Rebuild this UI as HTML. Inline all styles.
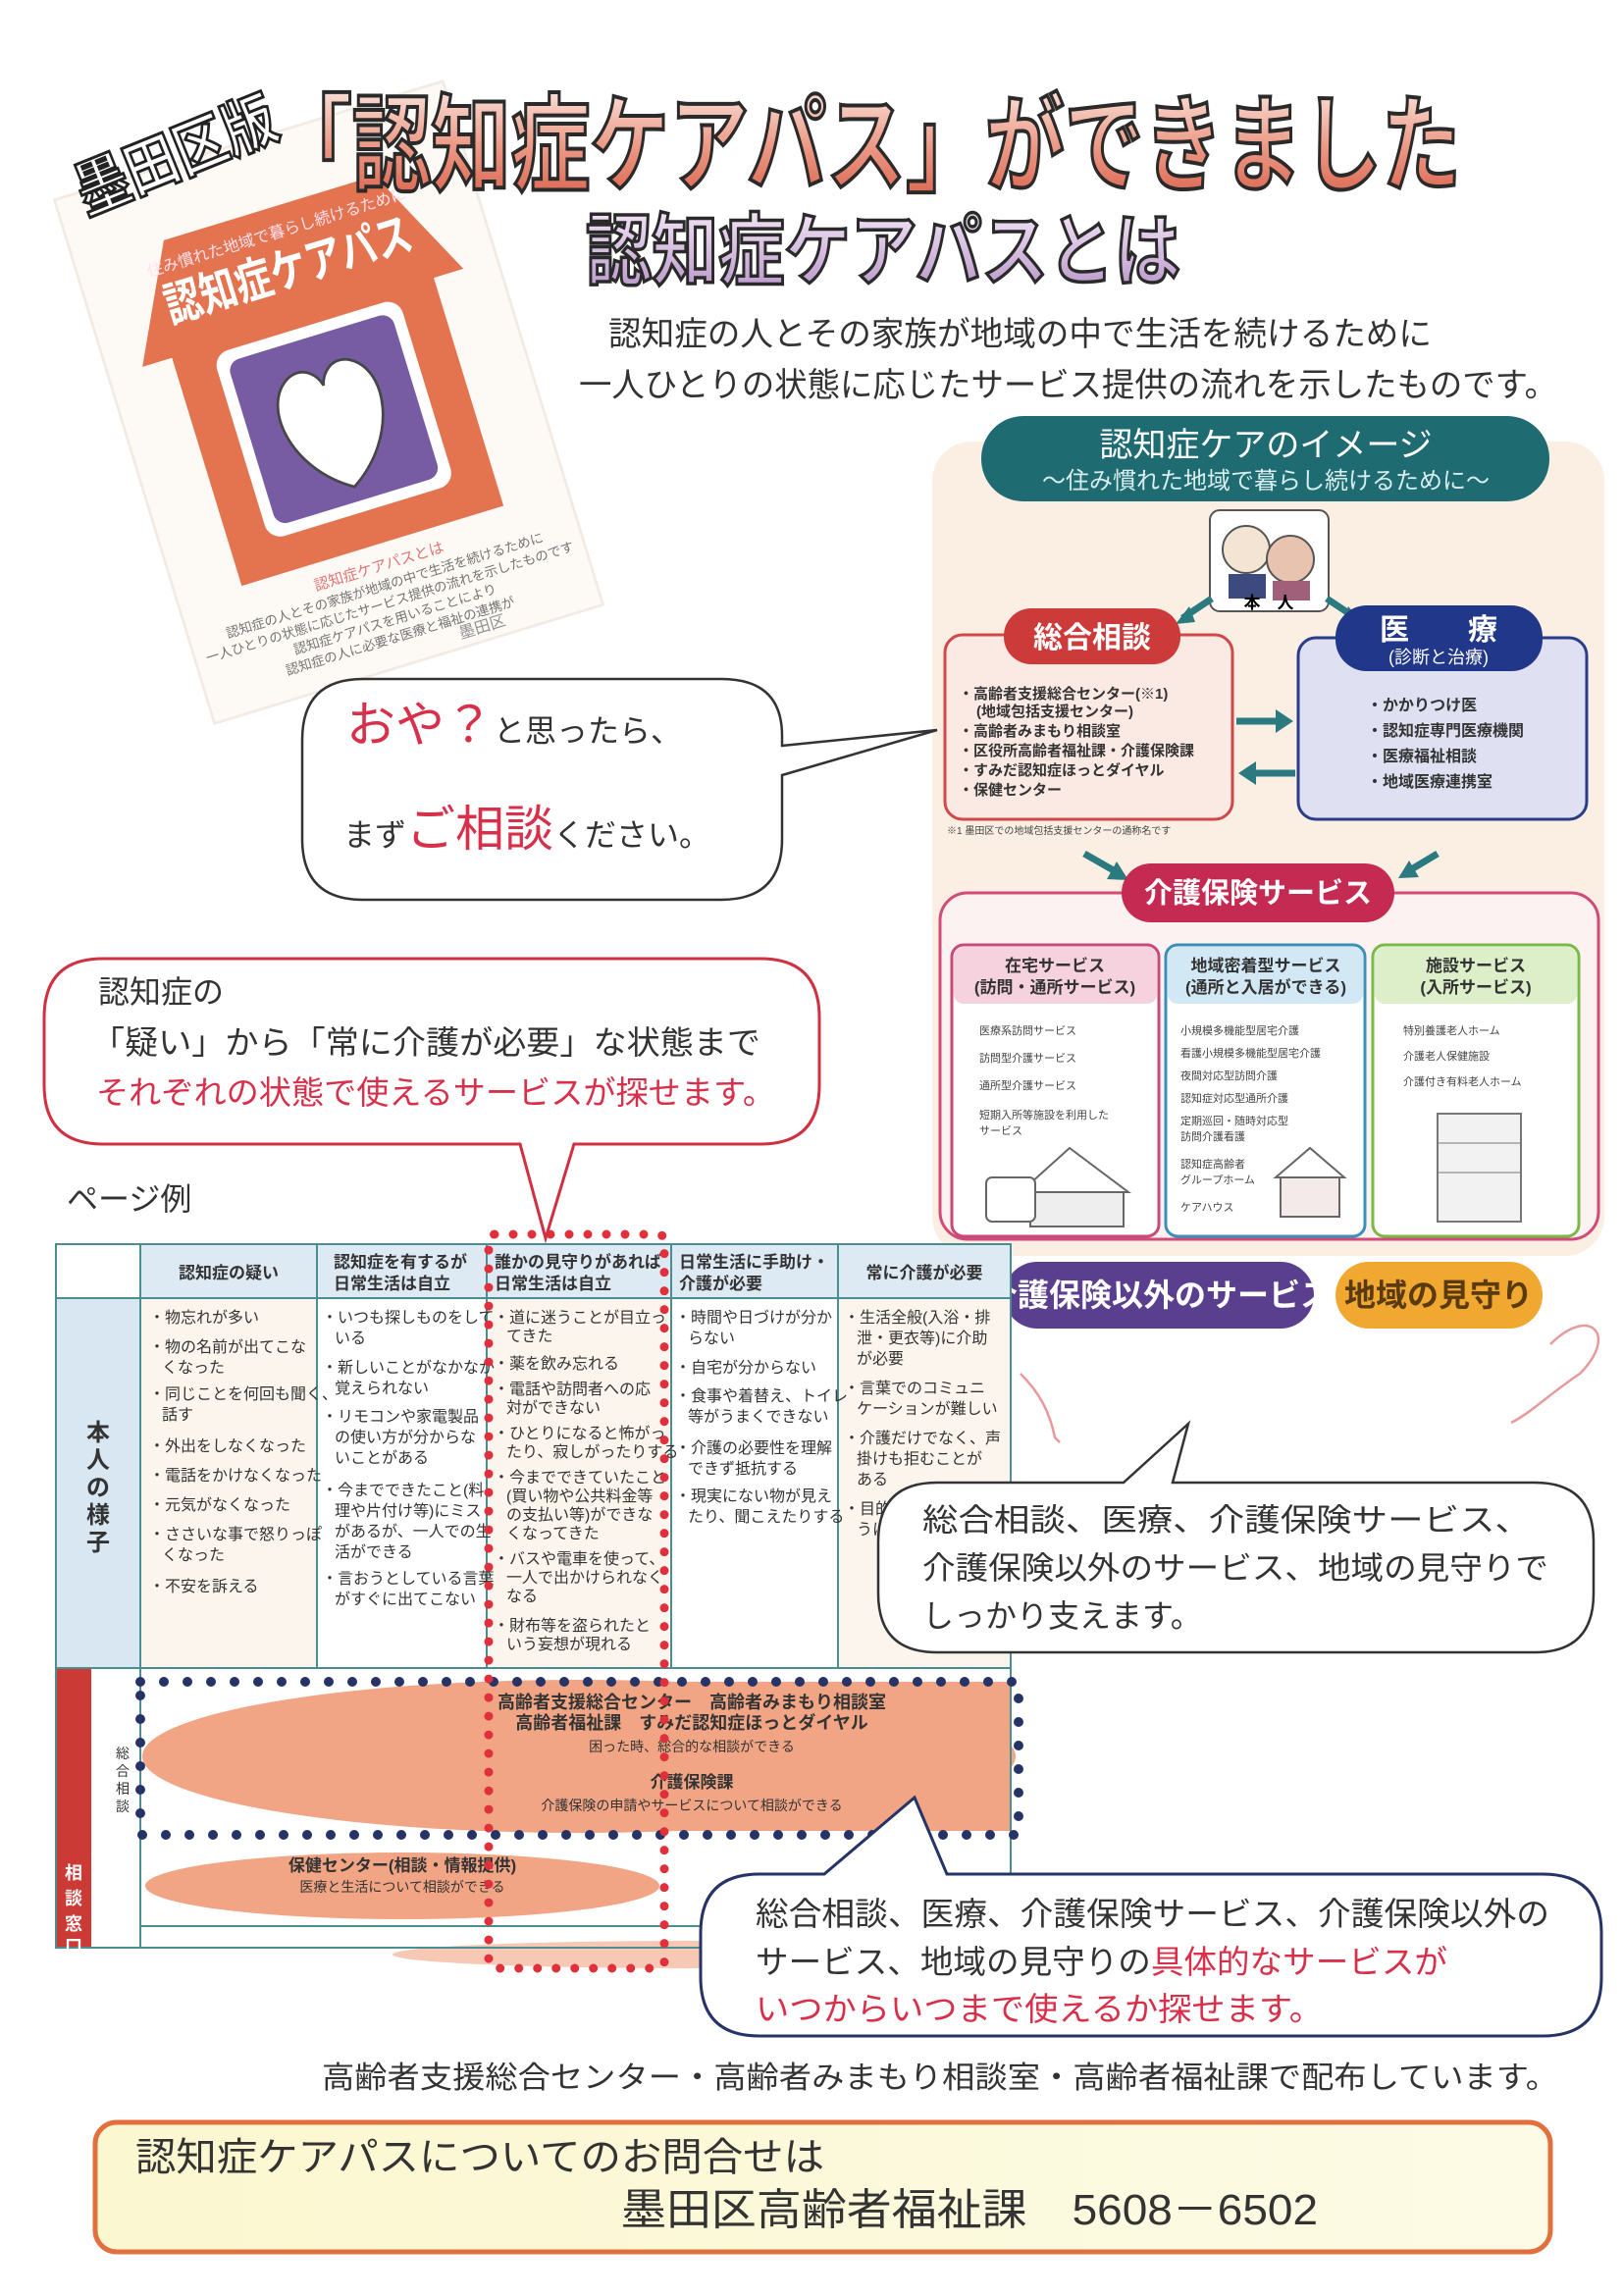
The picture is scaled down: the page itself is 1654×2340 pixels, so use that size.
<!DOCTYPE html>
<html><head><meta charset="utf-8"><style>
html,body{margin:0;padding:0;background:#fff}
svg{display:block}
text{font-family:"Liberation Sans","Noto Sans CJK JP",sans-serif}
</style></head><body>
<svg width="1654" height="2340" viewBox="0 0 1654 2340" xmlns="http://www.w3.org/2000/svg">
<defs>
<linearGradient id="tg" x1="0" y1="0" x2="0" y2="1"><stop offset="0" stop-color="#fbe3dc"/><stop offset="0.5" stop-color="#ec9a86"/><stop offset="1" stop-color="#d9604a"/></linearGradient>
<linearGradient id="sg" x1="0" y1="0" x2="0" y2="1"><stop offset="0" stop-color="#f3e6f6"/><stop offset="1" stop-color="#b793c8"/></linearGradient>
<linearGradient id="bg" x1="0" y1="0" x2="1" y2="0"><stop offset="0" stop-color="#fbf7cf"/><stop offset="1" stop-color="#fdfbe6"/></linearGradient>
</defs>

<!-- booklet cover -->
<g transform="translate(335 410) scale(0.9) rotate(-17) translate(-325 -400)" opacity="0.9">
<rect x="95" y="90" width="460" height="620" fill="#fdfaf6" stroke="#f1e8e0" stroke-width="3"/>
<polygon points="135,300 200,170 450,170 515,300" fill="#e0653c"/>
<rect x="170" y="295" width="310" height="275" fill="#e0653c"/>
<text x="325" y="205" font-size="18" fill="#fde" text-anchor="middle">住み慣れた地域で暮らし続けるために</text>
<text x="325" y="262" font-size="54" font-weight="bold" fill="#fff" text-anchor="middle" textLength="290" lengthAdjust="spacingAndGlyphs">認知症ケアパス</text>
<rect x="215" y="310" width="220" height="220" rx="18" fill="#fff"/>
<rect x="228" y="323" width="194" height="194" rx="14" fill="#6a4b9a"/>
<path d="M325 500 C260 460 250 380 290 360 C310 352 322 368 325 380 C328 368 340 352 360 360 C400 380 390 460 325 500Z" fill="#fff" stroke="#333" stroke-width="3"/>
<text x="325" y="600" font-size="17" fill="#d66" text-anchor="middle">認知症ケアパスとは</text>
<text x="325" y="622" font-size="15" fill="#666" text-anchor="middle">認知症の人とその家族が地域の中で生活を続けるために</text>
<text x="325" y="642" font-size="15" fill="#666" text-anchor="middle">一人ひとりの状態に応じたサービス提供の流れを示したものです</text>
<text x="325" y="662" font-size="15" fill="#666" text-anchor="middle">認知症ケアパスを用いることにより</text>
<text x="325" y="682" font-size="15" fill="#666" text-anchor="middle">認知症の人に必要な医療と福祉の連携が</text>
<text x="390" y="700" font-size="18" fill="#888">墨田区</text>
</g>

<!-- titles -->
<text x="60" y="185" font-size="62" font-weight="bold" fill="#fff" stroke="#222" stroke-width="3" transform="rotate(-22 160 130)" textLength="215" lengthAdjust="spacingAndGlyphs">墨田区版</text>
<text x="278" y="186" font-size="108" font-weight="bold" fill="url(#tg)" stroke="#2a2a2a" stroke-width="4" textLength="1211" lengthAdjust="spacingAndGlyphs">「認知症ケアパス」ができました</text>
<text x="597" y="284" font-size="80" font-weight="bold" fill="url(#sg)" stroke="#2a2a2a" stroke-width="3.5" textLength="606" lengthAdjust="spacingAndGlyphs">認知症ケアパスとは</text>
<text x="620" y="352" font-size="34" fill="#333" textLength="839" lengthAdjust="spacingAndGlyphs">認知症の人とその家族が地域の中で生活を続けるために</text>
<text x="590" y="404" font-size="34" fill="#333" textLength="997" lengthAdjust="spacingAndGlyphs">一人ひとりの状態に応じたサービス提供の流れを示したものです。</text>

<!-- right panel -->
<rect x="950" y="450" width="685" height="830" rx="40" fill="#fbefe4"/>
<rect x="1000" y="424" width="579" height="87" rx="43" fill="#1f6b72"/>
<text x="1290" y="465" font-size="34" fill="#fff" text-anchor="middle">認知症ケアのイメージ</text>
<text x="1290" y="498" font-size="24" fill="#d8eeee" text-anchor="middle">～住み慣れた地域で暮らし続けるために～</text>
<rect x="1233" y="520" width="121" height="103" rx="10" fill="#fff" stroke="#555" stroke-width="2"/>
<circle cx="1270" cy="560" r="24" fill="#f4e4d4" stroke="#555" stroke-width="2"/>
<circle cx="1315" cy="570" r="24" fill="#e8c4b0" stroke="#555" stroke-width="2"/>
<rect x="1252" y="585" width="38" height="25" fill="#3d4a80"/><rect x="1297" y="592" width="38" height="20" fill="#a0607a"/>
<text x="1293" y="620" font-size="17" font-weight="bold" text-anchor="middle">本　人</text>
<path d="M1235 610 L1205 630" stroke="#2a7a80" stroke-width="7"/><polygon points="1198,636 1212,618 1218,634" fill="#2a7a80"/>
<path d="M1352 610 L1382 630" stroke="#2a7a80" stroke-width="7"/><polygon points="1390,636 1374,618 1368,634" fill="#2a7a80"/>
<rect x="963" y="647" width="293" height="188" rx="18" fill="#fbe9e4" stroke="#d04848" stroke-width="3"/>
<rect x="1023" y="620" width="180" height="57" rx="28" fill="#cc3a3a"/>
<text x="1113" y="660" font-size="30" font-weight="bold" fill="#fff" text-anchor="middle">総合相談</text>
<g font-size="15" font-weight="bold" fill="#333">
<text x="977" y="712">・高齢者支援総合センター(※1)</text>
<text x="995" y="730">(地域包括支援センター)</text>
<text x="977" y="750">・高齢者みまもり相談室</text>
<text x="977" y="770">・区役所高齢者福祉課・介護保険課</text>
<text x="977" y="790">・すみだ認知症ほっとダイヤル</text>
<text x="977" y="810">・保健センター</text>
</g>
<text x="965" y="850" font-size="10" fill="#444">※1 墨田区での地域包括支援センターの通称名です</text>
<rect x="1323" y="650" width="294" height="185" rx="18" fill="#dfe0f2" stroke="#2a3d8a" stroke-width="3"/>
<rect x="1361" y="617" width="211" height="67" rx="32" fill="#21378a"/>
<text x="1466" y="652" font-size="30" font-weight="bold" fill="#fff" text-anchor="middle">医　　療</text>
<text x="1466" y="676" font-size="18" fill="#fff" text-anchor="middle">(診断と治療)</text>
<g font-size="16" font-weight="bold" fill="#333">
<text x="1393" y="724">・かかりつけ医</text>
<text x="1393" y="750">・認知症専門医療機関</text>
<text x="1393" y="776">・医療福祉相談</text>
<text x="1393" y="802">・地域医療連携室</text>
</g>
<path d="M1260 735 L1305 735" stroke="#2a7a80" stroke-width="7"/><polygon points="1318,735 1300,723 1300,747" fill="#2a7a80"/>
<path d="M1320 788 L1275 788" stroke="#2a7a80" stroke-width="7"/><polygon points="1262,788 1280,776 1280,800" fill="#2a7a80"/>
<path d="M1105 870 L1140 890" stroke="#2a7a80" stroke-width="7"/><polygon points="1150,897 1128,896 1138,878" fill="#2a7a80"/>
<path d="M1465 870 L1435 888" stroke="#2a7a80" stroke-width="7"/><polygon points="1425,895 1436,877 1446,894" fill="#2a7a80"/>
<rect x="958" y="910" width="671" height="353" rx="28" fill="#fdf2f2" stroke="#d24a78" stroke-width="3"/>
<rect x="1143" y="880" width="278" height="60" rx="30" fill="#c42a52"/>
<text x="1282" y="920" font-size="29" font-weight="bold" fill="#fff" text-anchor="middle">介護保険サービス</text>
<rect x="970" y="963" width="211" height="297" rx="12" fill="#fff" stroke="#c84a78" stroke-width="3"/>
<rect x="972" y="965" width="207" height="58" rx="10" fill="#f6d2de"/>
<rect x="1188" y="963" width="203" height="297" rx="12" fill="#fff" stroke="#3a90b8" stroke-width="3"/>
<rect x="1190" y="965" width="199" height="58" rx="10" fill="#d2e8f4"/>
<rect x="1399" y="963" width="210" height="297" rx="12" fill="#fff" stroke="#7ab848" stroke-width="3"/>
<rect x="1401" y="965" width="206" height="58" rx="10" fill="#dcefc8"/>
<g font-size="17" font-weight="bold" fill="#333" text-anchor="middle">
<text x="1075" y="990">在宅サービス</text><text x="1075" y="1012">(訪問・通所サービス)</text>
<text x="1290" y="990">地域密着型サービス</text><text x="1290" y="1012">(通所と入居ができる)</text>
<text x="1504" y="990">施設サービス</text><text x="1504" y="1012">(入所サービス)</text>
</g>
<g font-size="11" fill="#444">
<text x="998" y="1054">医療系訪問サービス</text><text x="998" y="1082">訪問型介護サービス</text><text x="998" y="1110">通所型介護サービス</text><text x="998" y="1140">短期入所等施設を利用した</text><text x="998" y="1156">サービス</text>
<text x="1203" y="1054">小規模多機能型居宅介護</text><text x="1203" y="1077">看護小規模多機能型居宅介護</text><text x="1203" y="1100">夜間対応型訪問介護</text><text x="1203" y="1123">認知症対応型通所介護</text><text x="1203" y="1146">定期巡回・随時対応型</text><text x="1203" y="1162">訪問介護看護</text><text x="1203" y="1190">認知症高齢者</text><text x="1203" y="1206">グループホーム</text><text x="1203" y="1234">ケアハウス</text>
<text x="1430" y="1054">特別養護老人ホーム</text><text x="1430" y="1080">介護老人保健施設</text><text x="1430" y="1106">介護付き有料老人ホーム</text>
</g>
<polygon points="1040,1215 1090,1170 1150,1215" fill="#fff" stroke="#666" stroke-width="2"/><rect x="1050" y="1215" width="95" height="35" fill="#eee" stroke="#666" stroke-width="2"/>
<rect x="1005" y="1200" width="50" height="45" rx="6" fill="#fff" stroke="#666" stroke-width="2"/>
<polygon points="1300,1200 1335,1170 1370,1200" fill="#fff" stroke="#666" stroke-width="2"/><rect x="1305" y="1200" width="60" height="40" fill="#f4eaea" stroke="#666" stroke-width="2"/>
<rect x="1465" y="1135" width="85" height="110" fill="#f2f2f2" stroke="#777" stroke-width="2"/>
<line x1="1465" y1="1165" x2="1550" y2="1165" stroke="#777"/><line x1="1465" y1="1195" x2="1550" y2="1195" stroke="#777"/>
<rect x="1023" y="1286" width="316" height="68" rx="34" fill="#5a3f8e"/>
<text x="1181" y="1331" font-size="32" font-weight="bold" fill="#fff" text-anchor="middle">介護保険以外のサービス</text>
<rect x="1361" y="1286" width="211" height="68" rx="34" fill="#f0a830"/>
<text x="1466" y="1331" font-size="32" font-weight="bold" fill="#5a3a10" text-anchor="middle">地域の見守り</text>
<path d="M1580 1370 C1620 1330 1650 1360 1610 1400 C1580 1420 1560 1440 1540 1450" fill="none" stroke="#e89a9a" stroke-width="2.5"/>
<path d="M1040 1400 C1060 1420 1070 1440 1075 1465 L1080 1470" fill="none" stroke="#e89a9a" stroke-width="2.5"/>

<!-- speech bubble 1 -->
<path d="M370 692 L735 692 Q797 692 797 750 L797 760 L955 744 L797 790 L797 855 Q797 917 735 917 L370 917 Q308 917 308 855 L308 754 Q308 692 370 692Z" fill="#fff" stroke="#333" stroke-width="2.5"/>
<text x="353" y="756"><tspan font-size="50" fill="#d8304a">おや？</tspan><tspan font-size="32" fill="#333">と思ったら、</tspan></text>
<text x="350" y="862"><tspan font-size="32" fill="#333">まず</tspan><tspan font-size="50" fill="#d8304a">ご相談</tspan><tspan font-size="32" fill="#333">ください。</tspan></text>

<!-- table -->
<rect x="57" y="1268" width="973" height="717" fill="#fff"/>
<rect x="143" y="1268" width="887" height="55" fill="#dde9f3"/>
<rect x="57" y="1323" width="86" height="377" fill="#d8e7f1"/>
<rect x="143" y="1323" width="180" height="377" fill="#fbf5ee"/>
<rect x="496" y="1323" width="188" height="377" fill="#fbf5ee"/>
<rect x="854" y="1323" width="176" height="377" fill="#fbf5ee"/>
<rect x="57" y="1700" width="36" height="285" fill="#cc3a36"/>
<ellipse cx="590" cy="1790" rx="445" ry="78" fill="#f2a585"/>
<rect x="590" y="1714" width="440" height="152" fill="#f2a585"/>
<ellipse cx="410" cy="1922" rx="262" ry="34" fill="#f2a585"/>
<ellipse cx="700" cy="1992" rx="300" ry="14" fill="#f7c8b4"/>
<g stroke="#4a8e92" stroke-width="2" fill="none">
<rect x="57" y="1268" width="973" height="717"/>
<line x1="57" y1="1323" x2="1030" y2="1323"/>
<line x1="57" y1="1700" x2="1030" y2="1700"/>
<line x1="143" y1="1268" x2="143" y2="1985"/>
<line x1="323" y1="1268" x2="323" y2="1700"/>
<line x1="496" y1="1268" x2="496" y2="1700"/>
<line x1="684" y1="1268" x2="684" y2="1700"/>
<line x1="854" y1="1268" x2="854" y2="1700"/>
<line x1="143" y1="1963" x2="1030" y2="1963"/>
</g>
<g font-size="17" font-weight="bold" fill="#333">
<text x="233" y="1303" text-anchor="middle">認知症の疑い</text>
<text x="340" y="1292">認知症を有するが</text><text x="340" y="1314">日常生活は自立</text>
<text x="504" y="1292">誰かの見守りがあれば</text><text x="504" y="1314">日常生活は自立</text>
<text x="692" y="1292">日常生活に手助け・</text><text x="692" y="1314">介護が必要</text>
<text x="942" y="1303" text-anchor="middle">常に介護が必要</text>
</g>
<g font-size="24" font-weight="bold" fill="#333" text-anchor="middle">
<text x="100" y="1468">本</text><text x="100" y="1496">人</text><text x="100" y="1524">の</text><text x="100" y="1552">様</text><text x="100" y="1580">子</text>
</g>
<g font-size="16" fill="#333">
<text x="152" y="1348">・物忘れが多い</text>
<text x="152" y="1378">・物の名前が出てこな</text><text x="165" y="1399">くなった</text>
<text x="152" y="1426">・同じことを何回も聞く、</text><text x="165" y="1447">話す</text>
<text x="152" y="1479">・外出をしなくなった</text>
<text x="152" y="1509">・電話をかけなくなった</text>
<text x="152" y="1539">・元気がなくなった</text>
<text x="152" y="1569">・ささいな事で怒りっぽ</text><text x="165" y="1590">くなった</text>
<text x="152" y="1622">・不安を訴える</text>
<text x="328" y="1348">・いつも探しものをして</text><text x="341" y="1369">いる</text>
<text x="328" y="1399">・新しいことがなかなか</text><text x="341" y="1420">覚えられない</text>
<text x="328" y="1449">・リモコンや家電製品</text><text x="341" y="1470">の使い方が分からな</text><text x="341" y="1491">いことがある</text>
<text x="328" y="1524">・今までできたこと(料</text><text x="341" y="1545">理や片付け等)にミス</text><text x="341" y="1566">があるが、一人での生</text><text x="341" y="1587">活ができる</text>
<text x="328" y="1614">・言おうとしている言葉</text><text x="341" y="1635">がすぐに出てこない</text>
<text x="503" y="1348">・道に迷うことが目立っ</text><text x="516" y="1367">てきた</text>
<text x="503" y="1395">・薬を飲み忘れる</text>
<text x="503" y="1421">・電話や訪問者への応</text><text x="516" y="1440">対ができない</text>
<text x="503" y="1466">・ひとりになると怖がっ</text><text x="516" y="1485">たり、寂しがったりする</text>
<text x="503" y="1511">・今までできていたこと</text><text x="516" y="1530">(買い物や公共料金等</text><text x="516" y="1549">の支払い等)ができな</text><text x="516" y="1568">くなってきた</text>
<text x="503" y="1594">・バスや電車を使って、</text><text x="516" y="1613">一人で出かけられなく</text><text x="516" y="1632">なる</text>
<text x="503" y="1662">・財布等を盗られたと</text><text x="516" y="1681">いう妄想が現れる</text>
<text x="688" y="1348">・時間や日づけが分か</text><text x="701" y="1369">らない</text>
<text x="688" y="1399">・自宅が分からない</text>
<text x="688" y="1428">・食事や着替え、トイレ</text><text x="701" y="1449">等がうまくできない</text>
<text x="688" y="1481">・介護の必要性を理解</text><text x="701" y="1502">できず抵抗する</text>
<text x="688" y="1530">・現実にない物が見え</text><text x="701" y="1551">たり、聞こえたりする</text>
<text x="860" y="1348">・生活全般(入浴・排</text><text x="873" y="1369">泄・更衣等)に介助</text><text x="873" y="1390">が必要</text>
<text x="860" y="1420">・言葉でのコミュニ</text><text x="873" y="1441">ケーションが難しい</text>
<text x="860" y="1471">・介護だけでなく、声</text><text x="873" y="1492">掛けも拒むことが</text><text x="873" y="1513">ある</text>
<text x="860" y="1543">・目的</text><text x="873" y="1564">うに</text>
</g>
<g font-size="18" font-weight="bold" fill="#fff" text-anchor="middle">
<text x="75" y="1915">相</text><text x="75" y="1941">談</text><text x="75" y="1967">窓</text><text x="75" y="1990">口</text>
</g>
<g font-size="14" fill="#333" text-anchor="middle">
<text x="125" y="1792">総</text><text x="125" y="1810">合</text><text x="125" y="1828">相</text><text x="125" y="1846">談</text>
</g>
<g font-weight="bold" fill="#333" text-anchor="middle">
<text x="705" y="1741" font-size="18">高齢者支援総合センター　高齢者みまもり相談室</text>
<text x="705" y="1762" font-size="18">高齢者福祉課　すみだ認知症ほっとダイヤル</text>
<text x="705" y="1785" font-size="14" font-weight="normal">困った時、総合的な相談ができる</text>
<text x="705" y="1822" font-size="17">介護保険課</text>
<text x="705" y="1845" font-size="14" font-weight="normal">介護保険の申請やサービスについて相談ができる</text>
<text x="410" y="1907" font-size="17">保健センター(相談・情報提供)</text>
<text x="410" y="1928" font-size="14" font-weight="normal">医療と生活について相談ができる</text>
</g>
<rect x="143" y="1714" width="895" height="156" fill="none" stroke="#253366" stroke-width="10" stroke-dasharray="0 24" stroke-linecap="round"/>
<rect x="498" y="1258" width="179" height="748" rx="6" fill="none" stroke="#e0303c" stroke-width="9" stroke-dasharray="0 19" stroke-linecap="round"/>

<!-- bubble 2 -->
<path d="M105 977 L775 977 Q835 977 835 1037 L835 1106 Q835 1166 775 1166 L585 1166 L556 1262 L530 1166 L105 1166 Q45 1166 45 1106 L45 1037 Q45 977 105 977Z" fill="#fff" stroke="#d03040" stroke-width="3"/>
<text x="100" y="1022" font-size="32" fill="#333">認知症の</text>
<text x="93" y="1074" font-size="33" fill="#333" textLength="682" lengthAdjust="spacingAndGlyphs">「疑い」から「常に介護が必要」な状態まで</text>
<text x="98" y="1125" font-size="33" fill="#d8304a" textLength="692" lengthAdjust="spacingAndGlyphs">それぞれの状態で使えるサービスが探せます。</text>

<text x="68" y="1233" font-size="32" fill="#333">ページ例</text>

<!-- bubble 3 -->
<path d="M955 1511 L1145 1511 L1211 1451 L1195 1511 L1564 1511 Q1624 1511 1624 1571 L1624 1624 Q1624 1684 1564 1684 L955 1684 Q895 1684 895 1624 L895 1571 Q895 1511 955 1511Z" fill="#fff" stroke="#333" stroke-width="2.5"/>
<g font-size="32" fill="#333">
<text x="940" y="1560" textLength="620" lengthAdjust="spacingAndGlyphs">総合相談、医療、介護保険サービス、</text>
<text x="940" y="1609" textLength="638" lengthAdjust="spacingAndGlyphs">介護保険以外のサービス、地域の見守りで</text>
<text x="940" y="1658">しっかり支えます。</text>
</g>

<!-- bubble 4 -->
<path d="M774 1910 L840 1910 L932 1832 L965 1910 L1572 1910 Q1632 1910 1632 1970 L1632 2015 Q1632 2075 1572 2075 L774 2075 Q714 2075 714 2015 L714 1970 Q714 1910 774 1910Z" fill="#fff" stroke="#253366" stroke-width="3"/>
<g font-size="33" fill="#333">
<text x="770" y="1962" textLength="809" lengthAdjust="spacingAndGlyphs">総合相談、医療、介護保険サービス、介護保険以外の</text>
<text x="770" y="2011" textLength="705" lengthAdjust="spacingAndGlyphs">サービス、地域の見守りの<tspan fill="#d8304a">具体的なサービスが</tspan></text>
<text x="770" y="2059" fill="#d8304a" textLength="578" lengthAdjust="spacingAndGlyphs">いつからいつまで使えるか探せます。</text>
</g>

<!-- footer -->
<text x="328" y="2128" font-size="31" fill="#333" textLength="1260" lengthAdjust="spacingAndGlyphs">高齢者支援総合センター・高齢者みまもり相談室・高齢者福祉課で配布しています。</text>
<rect x="97" y="2163" width="1483" height="132" rx="22" fill="url(#bg)" stroke="#e2703e" stroke-width="5"/>
<text x="138" y="2212" font-size="40" fill="#333" textLength="702" lengthAdjust="spacingAndGlyphs">認知症ケアパスについてのお問合せは</text>
<text x="633" y="2267" font-size="44" fill="#333" textLength="710" lengthAdjust="spacingAndGlyphs">墨田区高齢者福祉課　5608－6502</text>
</svg>
</body></html>
